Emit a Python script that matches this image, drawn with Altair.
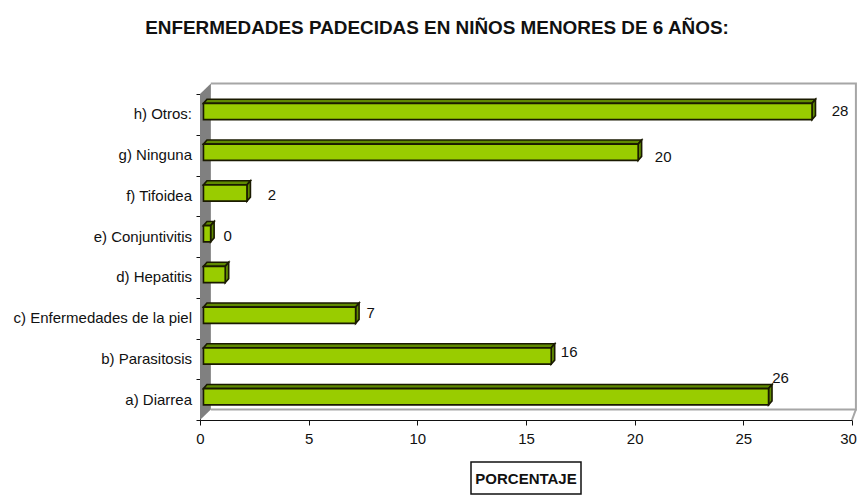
import altair as alt
import pandas as pd

# ---- chart values (bottom to top) ----
categories = ["a) Diarrea", "b) Parasitosis", "c) Enfermedades de la piel", "d)  Hepatitis",
              "e) Conjuntivitis", "f) Tifoidea", "g) Ninguna", "h) Otros:"]
values = [26.0, 16.0, 7.0, 1.0, 0.33, 2.0, 20.0, 28.0]
value_labels = ["26", "16", "7", "", "0", "2", "20", "28"]
x_ticks = [0, 5, 10, 15, 20, 25, 30]
title_text = "ENFERMEDADES PADECIDAS EN NIÑOS MENORES DE 6 AÑOS:"
x_title = "PORCENTAJE"

# ---- drawing constants ----
FONT = "Liberation Sans"
FRONT, DARK, WALL = "#99CC00", "#5F8A00", "#808080"
LINE = "#1a1a00"
W, H = 652, 326
X_MAX, Y_MAX = 30, 8
BAR_START, DX, DY = 0.16, 0.16, 0.1     # bar start and 3-D depth in axis units
BAR_LOW, BAR_HIGH = 0.37, 0.77          # bar extent within its band
WALL_DX, WALL_DY = 0.5, 0.26
WALL_RIGHT = 30.18                      # the page clips at 857 px
# value-label displacement from bar end (px) as in the reference
label_dx = [12, 18, 15, 0, 17, 25, 25, 28]
label_dy = [-22, -7, -5, 0, -1, -1, 2, -3]

xp = alt.X("x:Q", scale=alt.Scale(domain=[0, X_MAX], nice=False),
           axis=alt.Axis(values=x_ticks, grid=False, tickSize=5, tickColor="#111", domainColor="#111",
                         labelFont=FONT, labelFontSize=15, labelColor="#111", labelPadding=6,
                         labelFlush=False,
                         labelOffset={"condition": {"test": "datum.value == 30", "value": -4}, "value": 0},
                         title=None, format="d"))
yp = alt.Y("y:Q", stack=None, scale=alt.Scale(domain=[0, Y_MAX], nice=False),
           axis=alt.Axis(values=list(range(Y_MAX + 1)), grid=False, tickSize=4, tickColor="#111",
                         domainColor="#111", labels=False, title=None))

# ---- walls ----
left_wall = pd.DataFrame({"x": [0, WALL_DX], "y": [Y_MAX, Y_MAX + WALL_DY], "y2": [0, WALL_DY]})
back = pd.DataFrame({"x": [WALL_DX, WALL_RIGHT, WALL_RIGHT, WALL_DX],
                     "y": [Y_MAX + WALL_DY, Y_MAX + WALL_DY, WALL_DY, WALL_DY], "o": [0, 1, 2, 3]})
floor = pd.DataFrame({"x": [X_MAX, WALL_RIGHT], "y": [0, WALL_DY], "o": [0, 1]})

wall_layer = alt.Chart(left_wall).mark_area(color=WALL).encode(x=xp, y=yp, y2="y2:Q")
back_layer = alt.Chart(back).mark_line(color="#a6a6a6", strokeWidth=2).encode(x=xp, y=yp, order="o:Q")
floor_layer = alt.Chart(floor).mark_line(color="#a6a6a6", strokeWidth=2).encode(x=xp, y=yp, order="o:Q")

# ---- bars ----
front_rows, top_rows, side_rows, text_rows = [], [], [], []
for i, (c, v, t) in enumerate(zip(categories, values, value_labels)):
    x0, x1 = BAR_START, BAR_START + v
    yb, yt = i + BAR_LOW, i + BAR_HIGH
    front_rows.append({"x": x0, "x2": x1, "y": yb, "y2": yt})
    for px, p_hi, p_lo in [(x0, yt, yt), (x0 + DX, yt + DY, yt),
                           (x1, yt + DY, yt), (x1 + DX, yt + DY, yt + DY)]:
        top_rows.append({"bar": c, "x": px, "y": p_hi, "y2": p_lo})
    for px, p_hi, p_lo in [(x1, yt, yb), (x1 + DX, yt + DY, yb + DY)]:
        side_rows.append({"bar": c, "x": px, "y": p_hi, "y2": p_lo})
    if t:
        text_rows.append({"x": x1, "y": i + 0.5, "t": t, "dx": label_dx[i], "dy": label_dy[i]})

stroke = dict(stroke=LINE, strokeWidth=1.6)
top_layer = alt.Chart(pd.DataFrame(top_rows)).mark_area(color=DARK, orient="vertical", **stroke).encode(
    x=xp, y=yp, y2="y2:Q", detail="bar:N")
side_layer = alt.Chart(pd.DataFrame(side_rows)).mark_area(color=DARK, orient="vertical", **stroke).encode(
    x=xp, y=yp, y2="y2:Q", detail="bar:N")
front_layer = alt.Chart(pd.DataFrame(front_rows)).mark_rect(color=FRONT, **stroke).encode(
    x=xp, x2="x2:Q", y=yp, y2="y2:Q")

# ---- text ----
cat_text = alt.Chart(pd.DataFrame({"c": categories, "y": [i + 0.5 for i in range(len(categories))]})).mark_text(
    align="right", baseline="middle", font=FONT, fontSize=15, color="#111", dx=-8
).encode(x=alt.value(0), y=yp, text="c:N")

value_text_layers = [
    alt.Chart(pd.DataFrame([r])).mark_text(align="center", baseline="middle", font=FONT, fontSize=15,
                                           color="#111", dx=r["dx"], dy=r["dy"]).encode(x=xp, y=yp, text="t:N")
    for r in text_rows
]

title_layer = alt.Chart(pd.DataFrame({"t": [title_text]})).mark_text(
    font=FONT, fontSize=18.9, fontWeight="bold", color="#111", baseline="middle"
).encode(x=alt.value(237), y=alt.value(-66), text="t:N")

box_layer = alt.Chart(pd.DataFrame({"a": [1]})).mark_rect(fill="white", stroke="#111", strokeWidth=1.5).encode(
    x=alt.value(271), x2=alt.value(381), y=alt.value(368), y2=alt.value(400))
xtitle_layer = alt.Chart(pd.DataFrame({"t": [x_title]})).mark_text(
    font=FONT, fontSize=15, fontWeight="bold", color="#111", baseline="middle"
).encode(x=alt.value(326), y=alt.value(385), text="t:N")

chart = alt.layer(
    wall_layer, back_layer, floor_layer, top_layer, side_layer, front_layer,
    cat_text, *value_text_layers, title_layer, box_layer, xtitle_layer,
).properties(
    width=W, height=H,
    padding={"left": 192, "top": 86, "right": 5, "bottom": 76},
    autosize=alt.AutoSizeParams(type="none"),
).configure_view(stroke=None)

chart.save("out.html", embed_options={"renderer": "svg", "actions": False})
